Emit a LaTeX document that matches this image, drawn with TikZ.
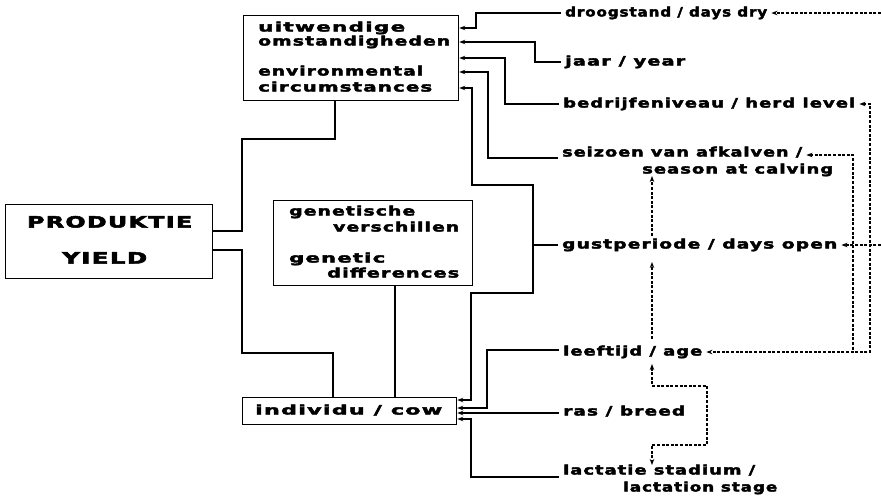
\documentclass[tikz,border=0pt]{standalone}
\usepackage{fontspec}
\usepackage{graphicx}
\usetikzlibrary{arrows.meta}
\newfontfamily\plotfont{DejaVu Sans}[LetterSpace=6,FakeBold=2.6]
\newfontfamily\bigplotfont{DejaVu Sans}[LetterSpace=6,FakeBold=3.2]
\newcommand{\wtx}[2]{\resizebox{#1pt}{\height}{#2}}
\begin{document}
\begin{tikzpicture}[x=1pt,y=-1pt,
  box/.style={draw, line width=1.3pt, inner sep=0, anchor=north west},
  lbl/.style={inner ysep=0, inner xsep=4pt, anchor=base west, font=\plotfont\bfseries\fontsize{13}{13}\selectfont},
  big/.style={inner sep=0, anchor=base west, font=\bigplotfont\bfseries\fontsize{15.5}{15.5}\selectfont},
  conn/.style={line width=1.2pt},
  arr/.style={-{Stealth[length=6pt,width=4.5pt]}},
  rarr/.style={{Stealth[length=6pt,width=4.5pt]}-},
  darr/.style={{Stealth[length=6pt,width=4.5pt]}-{Stealth[length=6pt,width=4.5pt]}},
  dsh/.style={line width=1.1pt, dash pattern=on 3pt off 1.6pt}]
\useasboundingbox[fill=white] (0,0) rectangle (881,499);

% boxes
\node[box, minimum width=207pt, minimum height=74pt] (prod) at (5,204) {};
\node[box, minimum width=215pt, minimum height=85pt] (env) at (243,15) {};
\node[box, minimum width=199pt, minimum height=85pt] (gen) at (273,200) {};
\node[box, minimum width=214pt, minimum height=27pt] (cow) at (242,397) {};

% box texts
\node[big] (tP) at (27,227.5) {\wtx{165}{PRODUKTIE}};
\node[big] (tY) at (62,263.5) {\wtx{85}{YIELD}};
\node[lbl] (e1) at (254,31.5) {\wtx{147}{uitwendige}};
\node[lbl] (e2) at (254,45.5) {\wtx{192}{omstandigheden}};
\node[lbl] (e3) at (254,75.5) {\wtx{165}{environmental}};
\node[lbl] (e4) at (254,91.5) {\wtx{174}{circumstances}};
\node[lbl] (g1) at (285,215.5) {\wtx{126}{genetische}};
\node[lbl] (g2) at (329,231.5) {\wtx{126}{verschillen}};
\node[lbl] (g3) at (285,262.5) {\wtx{96}{genetic}};
\node[lbl] (g4) at (323,277.5) {\wtx{132}{differences}};
\node[lbl] (c1) at (251,414.5) {\wtx{187}{individu / cow}};

% right labels
\node[lbl] (dry) at (561,16.5) {\wtx{202}{droogstand / days dry}};
\node[lbl] (year) at (561,65.5) {\wtx{120}{jaar / year}};
\node[lbl] (herd) at (559,107.5) {\wtx{292}{bedrijfeniveau / herd level}};
\node[lbl] (seiz) at (558,156.5) {\wtx{240}{seizoen van afkalven /}};
\node[lbl] (seas) at (638,173.5) {\wtx{191}{season at calving}};
\node[lbl] (open) at (558,248.5) {\wtx{275}{gustperiode / days open}};
\node[lbl] (age) at (559,355.5) {\wtx{139}{leeftijd / age}};
\node[lbl] (breed) at (559,415.5) {\wtx{122}{ras / breed}};
\node[lbl] (lact1) at (559,474.5) {\wtx{192}{lactatie stadium /}};
\node[lbl] (lact2) at (619,491.5) {\wtx{154}{lactation stage}};

% main connectors
\draw[conn] (prod.east |- 0,231) -- (242,231) -- (242,139) -- (335,139) -- (env.south -| 335,0);
\draw[conn] (prod.east |- 0,250) -- (242,250) -- (242,353) -- (333,353) -- (cow.north -| 333,0);
\draw[conn] (gen.south -| 395,0) -- (cow.north -| 395,0);

\draw[conn,arr] (dry.west |- 0,13) -- (476,13) -- (476,28) -- (env.east |- 0,28);
\draw[conn,arr] (year.west |- 0,62) -- (535,62) -- (535,42) -- (env.east |- 0,42);
\draw[conn,arr] (herd.west |- 0,104) -- (505,104) -- (505,58) -- (env.east |- 0,58);
\draw[conn,arr] (seiz.west |- 0,158) -- (488,158) -- (488,72) -- (env.east |- 0,72);
\coordinate (gj) at (533,245);
\draw[conn] (open.west |- 0,245) -- (gj);
\draw[conn,arr] (gj) -- (533,185) -- (472,185) -- (472,88) -- (env.east |- 0,88);
\draw[conn,arr] (gj) -- (533,293) -- (471,293) -- (471,400) -- (cow.east |- 0,400);
\draw[conn,arr] (age.west |- 0,350) -- (487,350) -- (487,408) -- (cow.east |- 0,408);
\draw[conn,arr] (breed.west |- 0,413) -- (cow.east |- 0,413);
\draw[conn,arr] (lact1.west |- 0,477) -- (471,477) -- (471,419) -- (cow.east |- 0,419);

% dashed relations
\coordinate (re1) at (881,13);
\coordinate (re2) at (881,245);
\draw[dsh,arr] (re1) -- (dry.east |- 0,13);
\draw[dsh,arr] (re2) -- (open.east |- 0,245);
\draw[dsh,darr] (herd.east |- 0,104) -- (870,104) -- (870,352) -- (age.east |- 0,352);
\draw[dsh,rarr] (seiz.east |- 0,155) -- (853,155) -- (853,352);
\coordinate (s1) at (652,236);
\coordinate (s2) at (652,176);
\draw[dsh,arr] (s1) -- (s2);
\coordinate (a1) at (652,339);
\coordinate (a2) at (652,262);
\draw[dsh,arr] (a1) -- (a2);
\coordinate (l1) at (652,364);
\coordinate (l2) at (652,465);
\draw[dsh,darr] (l1) -- (652,386) -- (707,386) -- (707,445) -- (652,445) -- (l2);
\end{tikzpicture}
\end{document}
